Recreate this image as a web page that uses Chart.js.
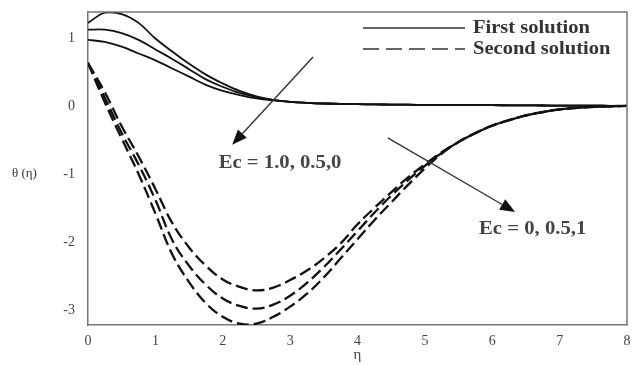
<!DOCTYPE html>
<html>
<head>
<meta charset="utf-8">
<script src="https://cdn.jsdelivr.net/npm/chart.js@4"></script>
<style>
  html, body { margin: 0; padding: 0; background: #fff; }
  #wrap { width: 632px; height: 365px; }
</style>
</head>
<body>
<div id="wrap"><canvas id="c" width="632" height="365"></canvas></div>
<script>
// similarity variable η on a uniform grid
const eta = [0,0.25,0.5,0.75,1,1.25,1.5,1.75,2,2.25,2.5,2.75,3,3.25,3.5,3.75,4,4.25,4.5,4.75,5,5.25,5.5,5.75,6,6.25,6.5,6.75,7,7.25,7.5,7.75,8];

// first (upper branch) solution θ(η) for Ec = 1.0, 0.5, 0
const firstEc10 = [1.22,1.37,1.35,1.22,0.99,0.80,0.62,0.46,0.33,0.22,0.14,0.09,0.06,0.045,0.035,0.03,0.025,0.022,0.02,0.018,0.015,0.013,0.012,0.011,0.01,0.009,0.008,0.006,0.005,0.004,0.003,0.001,0];
const firstEc05 = [1.12,1.12,1.07,0.97,0.83,0.69,0.54,0.39,0.28,0.19,0.13,0.085,0.06,0.045,0.035,0.03,0.025,0.022,0.02,0.018,0.015,0.013,0.012,0.011,0.01,0.009,0.008,0.006,0.005,0.004,0.003,0.001,0];
const firstEc00 = [0.97,0.94,0.87,0.77,0.67,0.55,0.43,0.31,0.22,0.16,0.11,0.08,0.06,0.045,0.035,0.03,0.025,0.022,0.02,0.018,0.015,0.013,0.012,0.011,0.01,0.009,0.008,0.006,0.005,0.004,0.003,0.001,0];

// second (lower branch) solution θ(η) for Ec = 0, 0.5, 1
const secondEc00 = [0.63,0.20,-0.30,-0.74,-1.22,-1.72,-2.08,-2.35,-2.55,-2.66,-2.71,-2.67,-2.56,-2.42,-2.24,-2.02,-1.74,-1.50,-1.27,-1.05,-0.86,-0.68,-0.53,-0.40,-0.29,-0.21,-0.14,-0.09,-0.05,-0.03,-0.015,-0.005,0];
const secondEc05 = [0.63,0.12,-0.40,-0.86,-1.38,-1.97,-2.35,-2.63,-2.83,-2.94,-2.98,-2.92,-2.79,-2.60,-2.37,-2.11,-1.84,-1.57,-1.32,-1.09,-0.88,-0.69,-0.53,-0.40,-0.29,-0.21,-0.14,-0.09,-0.05,-0.03,-0.015,-0.005,0];
const secondEc10 = [0.63,0.05,-0.48,-1.00,-1.58,-2.18,-2.59,-2.90,-3.10,-3.20,-3.20,-3.10,-2.95,-2.76,-2.52,-2.24,-1.96,-1.68,-1.42,-1.16,-0.92,-0.70,-0.53,-0.40,-0.29,-0.21,-0.14,-0.09,-0.05,-0.03,-0.015,-0.005,0];

// axis ticks
const xTicks = [0,1,2,3,4,5,6,7,8];
const yTicks = [-3,-2,-1,0,1];

// legend entries
const legendLabels = ['First solution', 'Second solution'];

// parameter annotations: label text and position, arrow start and tip (η, θ)
const noteText = ['Ec = 1.0, 0.5,0', 'Ec = 0, 0.5,1'];
const noteAt = [[2.85, -0.84], [6.6, -1.82]];
const arrowFrom = [[3.34, 0.72], [4.45, -0.47]];
const arrowTo = [[2.14, -0.57], [6.34, -1.56]];

const SERIF = '"Liberation Serif", "DejaVu Serif", serif';
const INK = '#111';

function pts(ys) { return eta.map((x, i) => ({ x: x, y: ys[i] })); }
function solid(ys) {
  return { data: pts(ys), borderColor: INK, borderWidth: 1.8, pointRadius: 0, tension: 0.4, fill: false };
}
function dashed(ys) {
  return { data: pts(ys), borderColor: INK, borderWidth: 2.3, borderDash: [12, 5], pointRadius: 0, tension: 0.4, fill: false };
}

// text drawn slightly widened, in the style of the printed figure
function wideText(ctx, t, x, y, sx, align) {
  ctx.save();
  ctx.translate(x, y);
  ctx.scale(sx, 1);
  ctx.textAlign = align;
  ctx.fillText(t, 0, 0);
  ctx.restore();
}

// frame, legend, y title and Ec annotations
const decor = {
  id: 'decor',
  afterDatasetsDraw(chart) {
    const { ctx, chartArea: a, scales: { x, y } } = chart;
    ctx.save();
    // top and right edges of the frame
    ctx.strokeStyle = '#777';
    ctx.lineWidth = 1.5;
    ctx.beginPath();
    ctx.moveTo(a.left, a.top); ctx.lineTo(a.right, a.top); ctx.lineTo(a.right, a.bottom);
    ctx.stroke();

    // legend
    const lx0 = a.right - 264, lx1 = a.right - 162;
    const ly = [a.top + 16, a.top + 37];
    ctx.strokeStyle = '#333';
    ctx.lineWidth = 1.6;
    ctx.beginPath(); ctx.setLineDash([]); ctx.moveTo(lx0, ly[0]); ctx.lineTo(lx1, ly[0]); ctx.stroke();
    ctx.beginPath(); ctx.setLineDash([16, 7]); ctx.moveTo(lx0, ly[1]); ctx.lineTo(lx1, ly[1]); ctx.stroke();
    ctx.setLineDash([]);
    ctx.fillStyle = '#333';
    ctx.font = 'bold 19px ' + SERIF;
    ctx.textBaseline = 'middle';
    legendLabels.forEach((t, i) => wideText(ctx, t, lx1 + 8, ly[i], 1.08, 'left'));

    // y-axis title beside the -1 tick
    ctx.font = '13px ' + SERIF;
    ctx.fillStyle = '#333';
    ctx.textAlign = 'left';
    ctx.fillText('θ (η)', 12, y.getPixelForValue(-1));

    // arrows
    ctx.strokeStyle = '#333';
    ctx.fillStyle = '#111';
    ctx.lineWidth = 1.4;
    arrowFrom.forEach((f, i) => {
      const x0 = x.getPixelForValue(f[0]), y0 = y.getPixelForValue(f[1]);
      const x1 = x.getPixelForValue(arrowTo[i][0]), y1 = y.getPixelForValue(arrowTo[i][1]);
      const ang = Math.atan2(y1 - y0, x1 - x0);
      const hl = 15, hw = 6;
      const bx = x1 - hl * Math.cos(ang), by = y1 - hl * Math.sin(ang);
      ctx.beginPath(); ctx.moveTo(x0, y0); ctx.lineTo(bx, by); ctx.stroke();
      ctx.beginPath();
      ctx.moveTo(x1, y1);
      ctx.lineTo(bx + hw * Math.sin(ang), by - hw * Math.cos(ang));
      ctx.lineTo(bx - hw * Math.sin(ang), by + hw * Math.cos(ang));
      ctx.closePath(); ctx.fill();
    });

    // Ec labels
    ctx.font = 'bold 18px ' + SERIF;
    ctx.fillStyle = '#444';
    noteText.forEach((t, i) => {
      wideText(ctx, t, x.getPixelForValue(noteAt[i][0]), y.getPixelForValue(noteAt[i][1]), 1.15, 'center');
    });
    ctx.restore();
  }
};

function noEdgePadding(s) {
  s.paddingTop = 0; s.paddingBottom = 0; s.paddingLeft = 0; s.paddingRight = 0;
}

new Chart(document.getElementById('c'), {
  type: 'line',
  data: {
    datasets: [
      solid(firstEc10), solid(firstEc05), solid(firstEc00),
      dashed(secondEc00), dashed(secondEc05), dashed(secondEc10)
    ]
  },
  options: {
    responsive: false,
    animation: false,
    devicePixelRatio: 1,
    layout: { padding: { left: 0, right: 5, top: 12, bottom: 0 } },
    plugins: { legend: { display: false }, tooltip: { enabled: false } },
    scales: {
      x: {
        type: 'linear', min: 0, max: 8,
        afterBuildTicks: s => { s.ticks = xTicks.map(v => ({ value: v })); },
        afterFit: s => { s.height = 40; noEdgePadding(s); },
        grid: { display: false, drawTicks: false },
        border: { display: true, color: '#777', width: 1.5 },
        ticks: { color: '#444', font: { family: SERIF, size: 14 }, padding: 8, maxRotation: 0 },
        title: { display: true, text: 'η', color: '#444', font: { family: SERIF, size: 15 }, padding: { top: 0, bottom: 1 } }
      },
      y: {
        min: -3.22, max: 1.38,
        afterBuildTicks: s => { s.ticks = yTicks.map(v => ({ value: v })); },
        afterFit: s => { s.width = 88; noEdgePadding(s); },
        grid: { display: false, drawTicks: false },
        border: { display: true, color: '#777', width: 1.5 },
        ticks: { color: '#444', font: { family: SERIF, size: 14 }, padding: 13 }
      }
    }
  },
  plugins: [decor]
});
</script>
</body>
</html>
